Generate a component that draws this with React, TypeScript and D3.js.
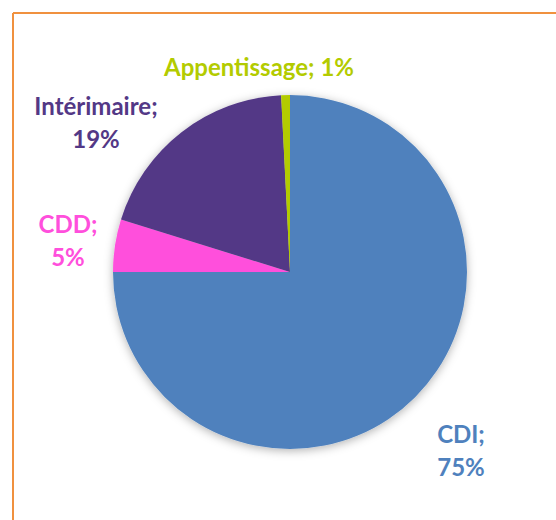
import React from "react";
import * as d3 from "d3";

const categories = ["CDI", "CDD", "Intérimaire", "Appentissage"];
const values = [75.0, 4.8, 19.4, 0.8];
const colors = ["#4F81BD", "#FF4FDC", "#533886", "#B3CB00"];

const W = 556;
const H = 520;
const cx = 290;
const cy = 272;
const R = 177;

// label layout: lines and anchor positions
const labelLines: string[][] = [
  ["CDI;", "75%"],
  ["CDD;", "5%"],
  ["Intérimaire;", "19%"],
  ["Appentissage; 1%"],
];
const labelPos: [number, number][] = [
  [461, 443],
  [68, 233],
  [96, 115],
  [259, 76],
];

export default function App() {
  const pie = d3
    .pie<number>()
    .sort(null)
    .value((d) => d);
  const arcs = pie(values);
  const arcGen = d3.arc<d3.PieArcDatum<number>>().innerRadius(0).outerRadius(R);
  const lineH = 33;
  return (
    <svg
      width={W}
      height={H}
      style={{ position: "absolute", left: 0, top: 0, background: "#fff" }}
      fontFamily="Lato, 'Open Sans', sans-serif"
    >
      <defs>
        <filter id="sh" x="-20%" y="-20%" width="140%" height="140%">
          <feDropShadow dx="0" dy="2" stdDeviation="5" floodColor="#000" floodOpacity="0.3" />
        </filter>
      </defs>
      <line x1={13} y1={13} x2={W} y2={13} stroke="#F0913F" strokeWidth={2} />
      <line x1={13} y1={13} x2={13} y2={H} stroke="#F0913F" strokeWidth={2} />
      <g transform={`translate(${cx},${cy})`} filter="url(#sh)">
        {arcs.map((a, i) => (
          <path key={categories[i]} d={arcGen(a) || ""} fill={colors[i]} />
        ))}
      </g>
      {labelLines.map((lines, i) => (
        <text
          key={categories[i]}
          x={labelPos[i][0]}
          y={labelPos[i][1]}
          textAnchor="middle"
          fontWeight="bold"
          fontSize={24}
          fill={colors[i]}
        >
          {lines.map((l, j) => (
            <tspan key={j} x={labelPos[i][0]} dy={j === 0 ? 0 : lineH}>
              {l}
            </tspan>
          ))}
        </text>
      ))}
    </svg>
  );
}
